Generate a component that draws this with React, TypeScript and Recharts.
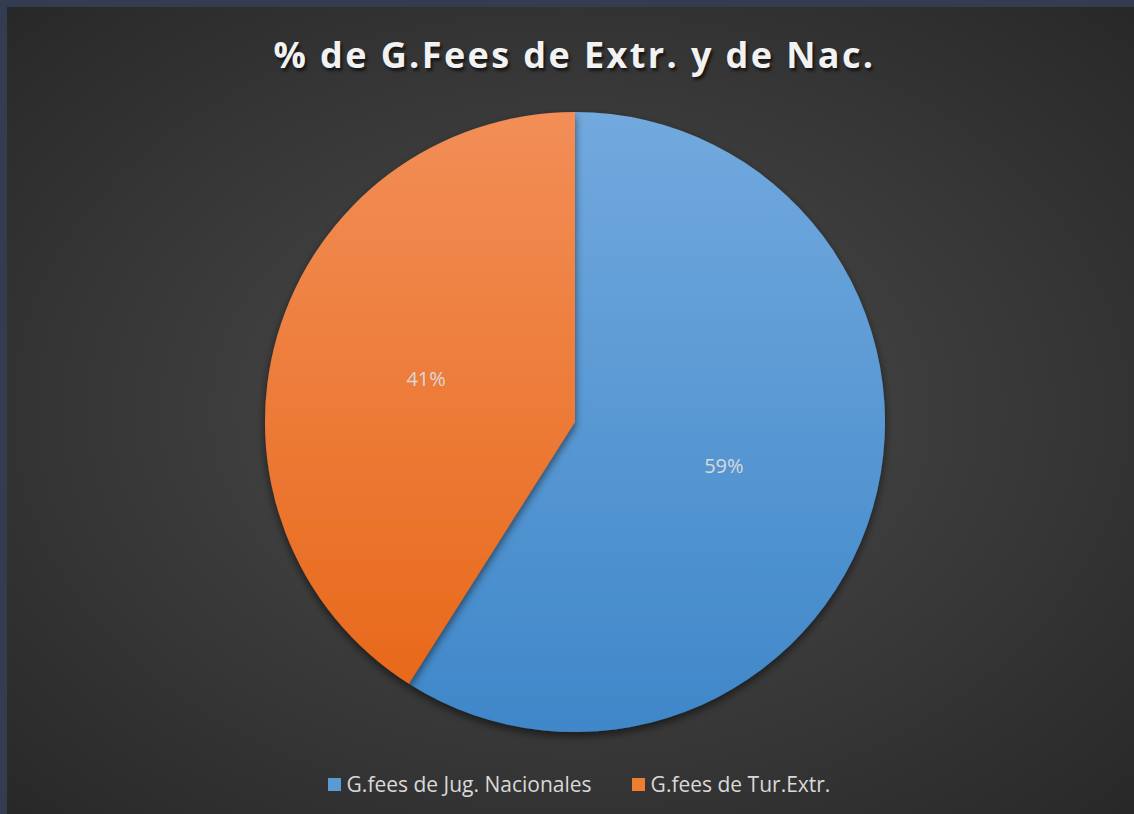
import { PieChart, Pie, Cell, Legend } from 'recharts';

const categories = ['G.fees de Jug. Nacionales', 'G.fees de Tur.Extr.'];
const shares = [59, 41];
const gradients = [
  { id: 'gradBlue', top: '#72a9de', bottom: '#3f87c9' },
  { id: 'gradOrange', top: '#f28e57', bottom: '#e8691b' },
];
const swatches = ['#5b9bd5', '#ed7d31'];

const data = categories.map((name, i) => ({ name, value: shares[i] }));

const RADIAN = Math.PI / 180;

interface LabelProps {
  cx: number;
  cy: number;
  midAngle: number;
  outerRadius: number;
  value: number;
}

const renderLabel = ({ cx, cy, midAngle, outerRadius, value }: LabelProps) => {
  const r = outerRadius * 0.5;
  const x = cx + r * Math.cos(-midAngle * RADIAN);
  const y = cy + r * Math.sin(-midAngle * RADIAN);
  return (
    <text
      x={x}
      y={y}
      fill="#d9d9d9"
      textAnchor="middle"
      dominantBaseline="central"
      style={{ fontFamily: '"Open Sans", sans-serif', fontSize: 20 }}
    >
      {`${value}%`}
    </text>
  );
};

const LegendContent = () => (
  <div
    style={{
      display: 'flex',
      justifyContent: 'center',
      gap: 40,
      paddingLeft: 17,
      fontFamily: '"Open Sans", sans-serif',
      fontSize: 21,
      color: '#d9d9d9',
    }}
  >
    {categories.map((c, i) => (
      <div key={c} style={{ display: 'flex', alignItems: 'center' }}>
        <span
          style={{
            display: 'inline-block',
            width: 13,
            height: 13,
            marginRight: 6,
            background: swatches[i],
          }}
        />
        {c}
      </div>
    ))}
  </div>
);

const App = () => {
  return (
    <div
      style={{
        position: 'fixed',
        left: 0,
        top: 0,
        width: 1134,
        height: 814,
        background: '#323d52',
      }}
    >
      <div
        style={{
          position: 'absolute',
          left: 7,
          top: 7,
          width: 1127,
          height: 807,
          background:
            'radial-gradient(ellipse at 50% 50%, #4c4c4c 0%, #3c3c3c 45%, #282828 100%)',
        }}
      >
        <div
          style={{
            position: 'absolute',
            left: 0,
            top: 23,
            width: 1127,
            paddingLeft: 8,
            boxSizing: 'border-box',
            textAlign: 'center',
            fontFamily: '"Open Sans", sans-serif',
            fontWeight: 700,
            fontSize: 36,
            letterSpacing: 2.4,
            color: '#f2f2f2',
            textShadow: '2px 3px 3px rgba(0,0,0,0.6)',
          }}
        >
          % de G.Fees de Extr. y de Nac.
        </div>
        <PieChart width={1127} height={807}>
          <defs>
            {gradients.map((g) => (
              <linearGradient key={g.id} id={g.id} x1="0" y1="0" x2="0" y2="1">
                <stop offset="0%" stopColor={g.top} />
                <stop offset="100%" stopColor={g.bottom} />
              </linearGradient>
            ))}
            <filter id="pieShadow" x="-20%" y="-20%" width="140%" height="140%">
              <feDropShadow dx="0" dy="4" stdDeviation="4" floodColor="#000" floodOpacity="0.55" />
            </filter>
          </defs>
          <Pie
            data={data}
            dataKey="value"
            nameKey="name"
            cx={563}
            cy={410}
            outerRadius={310}
            startAngle={90}
            endAngle={-270}
            stroke="none"
            label={renderLabel}
            labelLine={false}
            isAnimationActive={false}
            style={{ filter: 'url(#pieShadow)' }}
          >
            {data.map((_, i) => (
              <Cell key={`cell-${i}`} fill={`url(#${gradients[i].id})`} />
            ))}
          </Pie>
          <Legend
            content={<LegendContent />}
            verticalAlign="bottom"
            wrapperStyle={{ bottom: 16 }}
          />
        </PieChart>
      </div>
    </div>
  );
};

export default App;
